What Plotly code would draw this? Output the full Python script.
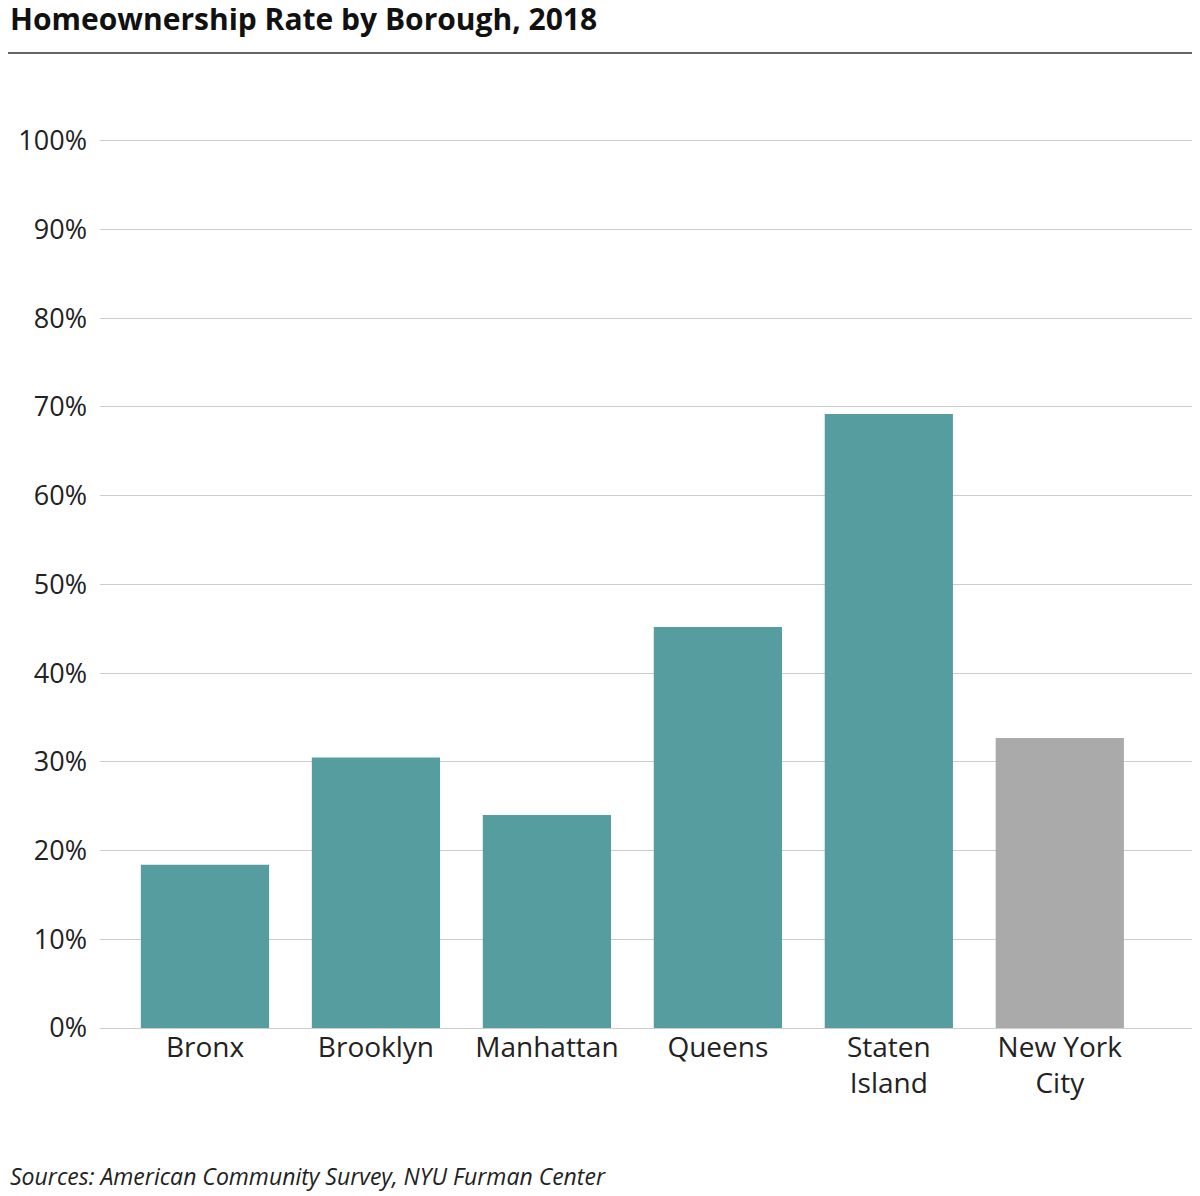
import plotly.graph_objects as go

boroughs = ["Bronx", "Brooklyn", "Manhattan", "Queens", "Staten<br>Island", "New York<br>City"]
rates = [18.4, 30.5, 24.0, 45.2, 69.2, 32.7]
colors = ["#569d9f"] * 5 + ["#aaaaaa"]
tick_vals = list(range(0, 101, 10))
tick_text = [f"{v}%" for v in tick_vals]

fig = go.Figure(go.Bar(x=list(range(len(boroughs))), y=rates, marker_color=colors,
                       marker_line_width=0, width=0.75))
fig.update_layout(
    width=1192, height=1188, plot_bgcolor="white", paper_bgcolor="white",
    margin=dict(l=92, r=0, t=131, b=168),
    font=dict(family="Open Sans", size=27, color="#222"),
    showlegend=False,
    xaxis=dict(range=[-0.614, 5.82], tickvals=list(range(len(boroughs))), ticktext=boroughs,
               showgrid=False, zeroline=False, ticks="", tickfont=dict(size=28)),
    yaxis=dict(range=[0, 100.2], tickvals=tick_vals, ticktext=tick_text, gridcolor="#cccccc",
               gridwidth=1, zeroline=True, zerolinecolor="#cccccc", zerolinewidth=1,
               ticks="", ticklabelstandoff=12, tickfont=dict(size=27)),
)
fig.add_annotation(text="<b>Homeownership Rate by Borough, 2018</b>", xref="paper", yref="paper",
                   x=-92/1100, y=1 + (131 - 10) / 889, xanchor="left", yanchor="middle",
                   showarrow=False, font=dict(size=30, color="#111"))
fig.add_shape(type="line", xref="paper", yref="paper", x0=-92/1100, x1=1,
              y0=1 + (131 - 45) / 889, y1=1 + (131 - 45) / 889, line=dict(color="#333", width=1.5))
fig.add_annotation(text="<i>Sources: American Community Survey, NYU Furman Center</i>",
                   xref="paper", yref="paper", x=-92/1100, y=-(1168 - 1020) / 889,
                   xanchor="left", yanchor="middle", showarrow=False, font=dict(size=23, color="#222"))
fig.write_html("out.html")
